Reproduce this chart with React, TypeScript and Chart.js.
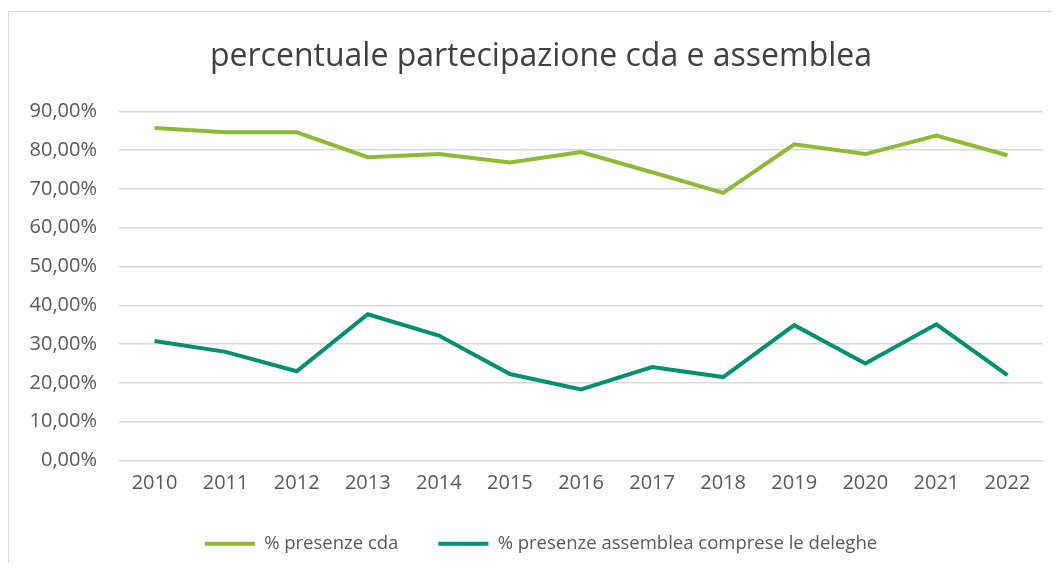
import React, { useEffect, useRef } from 'react';
import { Chart, registerables } from 'chart.js';

Chart.register(...registerables);

const years = ['2010', '2011', '2012', '2013', '2014', '2015', '2016', '2017', '2018', '2019', '2020', '2021', '2022'];
const presenzeCda = [85.7, 84.6, 84.6, 78.2, 79.0, 76.8, 79.5, 74.3, 69.0, 81.5, 79.0, 83.8, 78.7];
const presenzeAssemblea = [30.8, 28.0, 23.0, 37.7, 32.2, 22.3, 18.3, 24.1, 21.5, 34.9, 25.0, 35.1, 22.0];
const seriesNames = ['% presenze cda', '% presenze assemblea comprese le deleghe'];
const titleText = 'percentuale partecipazione cda e assemblea';

const FONT = '"Open Sans"';

const noLabelClip = {
  id: 'noLabelClip',
  afterLayout(chart: any) {
    const y = chart.scales.y;
    if (y) y._computeLabelArea = () => undefined;
  },
};

export default function App() {
  const ref = useRef<HTMLCanvasElement | null>(null);

  useEffect(() => {
    document.body.style.overflow = 'hidden';
    const canvas = ref.current;
    if (!canvas) return;
    const chart = new Chart(canvas, {
      type: 'line',
      data: {
        labels: years,
        datasets: [
          {
            label: seriesNames[0],
            data: presenzeCda,
            borderColor: '#8DBB36',
            backgroundColor: '#8DBB36',
            borderWidth: 4,
            pointRadius: 0,
            tension: 0,
          },
          {
            label: seriesNames[1],
            data: presenzeAssemblea,
            borderColor: '#009170',
            backgroundColor: '#009170',
            borderWidth: 4,
            pointRadius: 0,
            tension: 0,
          },
        ],
      },
      plugins: [noLabelClip],
      options: {
        animation: false,
        responsive: false,
        maintainAspectRatio: false,
        layout: { padding: { left: 30, right: 28, top: 0, bottom: 0 } },
        plugins: {
          title: {
            display: true,
            text: titleText,
            color: '#404040',
            font: { family: FONT, size: 32, weight: 'normal' },
            padding: { top: 26, bottom: 35 },
          },
          legend: {
            position: 'bottom',
            labels: {
              color: '#595959',
              font: { family: FONT, size: 18.5 },
              usePointStyle: true,
              pointStyle: 'line',
              pointStyleWidth: 50,
              padding: 40,
            },
          },
          tooltip: { enabled: false },
        },
        scales: {
          x: {
            offset: true,
            grid: { display: false, drawTicks: false },
            border: { display: false },
            ticks: { color: '#595959', font: { family: FONT, size: 20 }, padding: 11 },
            afterFit: (s: any) => { s.height = 34; },
          },
          y: {
            min: 0,
            max: 90,
            grid: { color: '#D9D9D9', lineWidth: 1.5, drawTicks: false },
            border: { display: false },
            ticks: {
              stepSize: 10,
              color: '#595959',
              font: { family: FONT, size: 20 },
              padding: 22,
              callback: (v: any) => Number(v).toFixed(2).replace('.', ',') + '%',
            },
            afterFit: (s: any) => { s.width = 80; },
          },
        },
      },
    });
    return () => chart.destroy();
  }, []);

  return (
    <div style={{ marginTop: 3, width: 1062, height: 551, borderLeft: '1px solid #D9D9D9', borderTop: '1px solid #D9D9D9', background: '#fff' }}>
      <canvas ref={ref} width={1062} height={551} style={{ display: 'block', width: 1062, height: 551 }} />
    </div>
  );
}
